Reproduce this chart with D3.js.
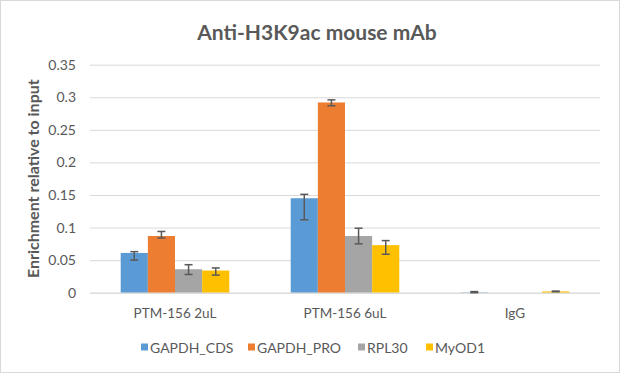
<!DOCTYPE html>
<html><head><meta charset="utf-8">
<script src="https://cdn.jsdelivr.net/npm/d3@7"></script>
<style>
html,body{margin:0;padding:0;background:#fff;}
svg{display:block;}
text{font-family:Lato, "Open Sans", sans-serif;}
</style></head>
<body><svg id="chart" width="620" height="373"></svg>
<script>
const categories = ["PTM-156 2uL", "PTM-156 6uL", "IgG"];
const seriesNames = ["GAPDH_CDS", "GAPDH_PRO", "RPL30", "MyOD1"];
const seriesColors = ["#5B9BD5", "#ED7D31", "#A5A5A5", "#FFC000"];
// bar values per series (one per category)
const gapdhCds = [0.061, 0.145, 0.0005];
const gapdhPro = [0.087, 0.292, 0.0];
const rpl30    = [0.036, 0.087, 0.0];
const myod1    = [0.034, 0.073, 0.002];
// error bar bounds (low, high)
const gapdhCdsLo = [0.050, 0.112, 0.0];
const gapdhCdsHi = [0.063, 0.151, 0.0017];
const gapdhProLo = [0.084, 0.287, 0.0];
const gapdhProHi = [0.094, 0.296, 0.0];
const rpl30Lo    = [0.028, 0.075, 0.0];
const rpl30Hi    = [0.043, 0.099, 0.0];
const myod1Lo    = [0.027, 0.059, 0.0015];
const myod1Hi    = [0.038, 0.080, 0.0025];
const yTicks = [0, 0.05, 0.1, 0.15, 0.2, 0.25, 0.3, 0.35];
const titleText = "Anti-H3K9ac mouse mAb";
const yTitle = "Enrichment relative to input";

const values = [gapdhCds, gapdhPro, rpl30, myod1];
const lows = [gapdhCdsLo, gapdhProLo, rpl30Lo, myod1Lo];
const highs = [gapdhCdsHi, gapdhProHi, rpl30Hi, myod1Hi];

const svg = d3.select("#chart");
const W = 620, H = 373;
const m = {left: 90, right: 20, top: 64.7, bottom: 80.3};
const pw = W - m.left - m.right, ph = H - m.top - m.bottom;

svg.append("rect").attr("x",0.5).attr("y",0.5).attr("width",W-1).attr("height",H-1)
  .attr("fill","#fff").attr("stroke","#d9d9d9");

const g = svg.append("g").attr("transform",`translate(${m.left},${m.top})`);
const x0 = d3.scaleBand().domain(categories).range([0,pw]).paddingInner(0).paddingOuter(0);
const x1 = d3.scaleBand().domain(seriesNames).range([30.7, x0.bandwidth()-30.7]);
const y = d3.scaleLinear().domain([0,0.35]).range([ph,0]);

// gridlines
const yAxis = d3.axisLeft(y).tickValues(yTicks).tickSize(-pw).tickPadding(14)
  .tickFormat(d => d===0 ? "0" : String(+d.toFixed(2)));
const ya = g.append("g").call(yAxis);
ya.select(".domain").remove();
ya.selectAll(".tick line").attr("stroke","#d9d9d9").attr("stroke-width",1);
ya.selectAll(".tick text").attr("fill","#595959").style("font-size","14px").style("font-family","Lato, sans-serif");

// bars
const groups = g.selectAll("g.cat").data(categories).join("g").attr("class","cat")
  .attr("transform", d => `translate(${x0(d)},0)`);
seriesNames.forEach((s, si) => {
  groups.append("rect")
    .attr("x", x1(s)).attr("width", x1.bandwidth())
    .attr("y", (d,ci) => y(values[si][ci]))
    .attr("height", (d,ci) => ph - y(values[si][ci]))
    .attr("fill", seriesColors[si]);
});
// x axis line
g.append("line").attr("x1",0).attr("x2",pw).attr("y1",ph+0.5).attr("y2",ph+0.5).attr("stroke","#d9d9d9");
// error bars
seriesNames.forEach((s, si) => {
  categories.forEach((c, ci) => {
    const lo = lows[si][ci], hi = highs[si][ci];
    if (hi - lo <= 0) return;
    const cx = x0(c) + x1(s) + x1.bandwidth()/2;
    const eg = g.append("g").attr("stroke","#595959").attr("stroke-width",1.5);
    eg.append("line").attr("x1",cx).attr("x2",cx).attr("y1",y(lo)).attr("y2",y(hi));
    eg.append("line").attr("x1",cx-4).attr("x2",cx+4).attr("y1",y(lo)).attr("y2",y(lo));
    eg.append("line").attr("x1",cx-4).attr("x2",cx+4).attr("y1",y(hi)).attr("y2",y(hi));
  });
});
// category labels
g.selectAll("text.cat").data(categories).join("text").attr("class","cat")
  .attr("x", d => x0(d) + x0.bandwidth()/2).attr("y", ph + 25)
  .attr("text-anchor","middle").attr("fill","#595959").style("font-size","13.5px").text(d=>d);

// title
svg.append("text").attr("x", 317).attr("y", 40).attr("text-anchor","middle")
  .attr("fill","#595959").style("font-size","21px").style("font-weight","bold").text(titleText);
// y title
svg.append("text").attr("transform",`translate(39,${m.top+ph/2-0})rotate(-90)`)
  .attr("text-anchor","middle").attr("fill","#595959").style("font-size","16px").style("font-weight","bold").text(yTitle);

// legend
const lx = [141, 248, 358, 426];
const leg = svg.append("g");
seriesNames.forEach((s, i) => {
  leg.append("rect").attr("x", lx[i]).attr("y", 343.5).attr("width",7).attr("height",7).attr("fill",seriesColors[i]);
  leg.append("text").attr("x", lx[i]+9).attr("y", 352.5).attr("fill","#595959").style("font-size","14px").text(s);
});
</script></body></html>
